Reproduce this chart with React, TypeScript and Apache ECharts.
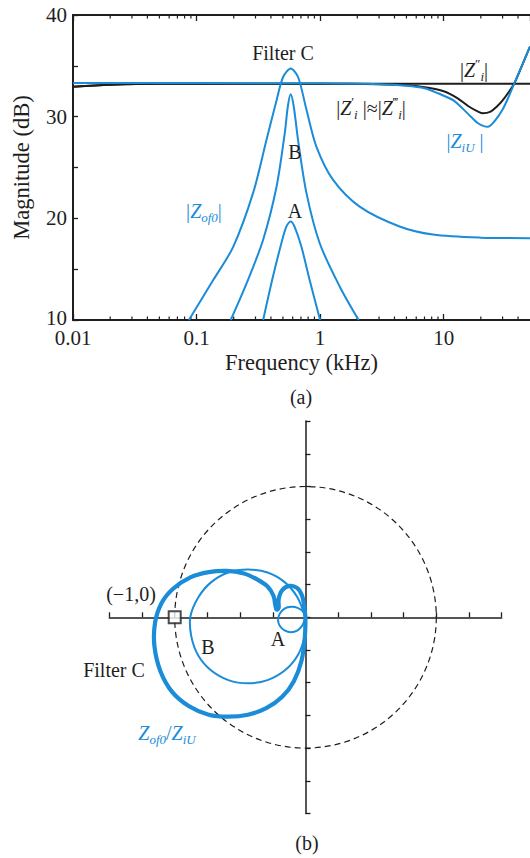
import React, { useEffect, useRef } from 'react';
import * as echarts from 'echarts';

const BLUE = '#1a8cd8';
const INK = '#1e1e1e';
const SERIF = 'Liberation Serif';

// ---------- Panel (a): magnitude vs frequency ----------
const freqMin = 0.01;
const freqMax = 50;
const magMin = 10;
const magMax = 40;
const magInterval = 5;
const minorFreqTicks = [
  0.02, 0.03, 0.04, 0.05, 0.06, 0.07, 0.08, 0.09,
  0.2, 0.3, 0.4, 0.5, 0.6, 0.7, 0.8, 0.9,
  2, 3, 4, 5, 6, 7, 8, 9,
  20, 30, 40,
];

// |Zof0| for filters A, B, C  [kHz, dB]
const zofA = [[0.346, 10], [0.416, 14.3], [0.486, 17.55], [0.534, 19.2], [0.578, 19.7], [0.62, 19.2], [0.706, 17.2], [0.824, 13.9], [1.0, 10]];
const zofB = [[0.189, 10], [0.254, 13.6], [0.346, 17.9], [0.444, 23.1], [0.518, 28.4], [0.548, 31.0], [0.578, 32.2], [0.612, 31.0], [0.663, 27.7], [0.775, 22.5], [0.993, 17.55], [1.44, 13.3], [2.05, 10]];
const zofC = [[0.0867, 10], [0.136, 13.9], [0.198, 17.2], [0.287, 22.5], [0.368, 27.7], [0.444, 31.6], [0.502, 33.9], [0.578, 34.75], [0.663, 33.9], [0.775, 30.7], [0.933, 27.05], [1.27, 23.8], [2.09, 21.15], [4.4, 19.2], [8.2, 18.4], [20, 18.1], [50, 18.05]];
// |ZiU|
const ziU = [[0.01, 33.3], [0.1, 33.3], [1, 33.28], [3, 33.2], [5, 33.05], [7, 32.8], [9, 32.3], [12, 31.6], [16, 30.2], [19, 29.35], [22.7, 29.0], [26, 29.6], [30, 30.7], [34, 32.1], [37.4, 33.3], [43, 35.0], [50, 36.9]];
// |Zi'| ≈ |Zi'''|
const ziPrime = [[0.01, 32.95], [0.02, 33.15], [0.05, 33.25], [1, 33.25], [3, 33.2], [5, 33.1], [7, 32.9], [10, 32.5], [13, 31.8], [16, 31.0], [19, 30.5], [20.8, 30.33], [24, 30.5], [27, 31.0], [30, 31.6], [34, 32.5], [37.4, 33.3], [43, 35.0], [50, 36.9]];
// |Zi''|
const ziDouble = [[0.01, 32.95], [0.02, 33.15], [0.05, 33.25], [1, 33.25], [10, 33.25], [50, 33.25]];

// ---------- Panel (b): Nyquist of Zof0/ZiU ----------
const nyqMin = -1.5;
const nyqMax = 1.5;
const nyqInterval = 0.25;
const criticalPoint = [[-1, 0]];
const nyqA = [[0, 0], [-0.02, 0.045], [-0.06, 0.072], [-0.11, 0.08], [-0.16, 0.066], [-0.197, 0.028], [-0.21, -0.018], [-0.197, -0.064], [-0.16, -0.1], [-0.11, -0.115], [-0.06, -0.1], [-0.025, -0.064], [-0.01, -0.03], [0, 0]];
const nyqB = [[0, 0], [-0.06, 0.15], [-0.157, 0.267], [-0.29, 0.343], [-0.44, 0.365], [-0.59, 0.343], [-0.723, 0.267], [-0.821, 0.15], [-0.88, 0.006], [-0.873, -0.146], [-0.821, -0.29], [-0.723, -0.405], [-0.59, -0.48], [-0.44, -0.505], [-0.29, -0.48], [-0.157, -0.405], [-0.059, -0.29], [-0.007, -0.146], [0, 0]];
const nyqC = [[0, 0], [-0.005, -0.15], [-0.03, -0.33], [-0.09, -0.49], [-0.18, -0.61], [-0.3, -0.695], [-0.44, -0.745], [-0.59, -0.76], [-0.74, -0.745], [-0.89, -0.68], [-1.02, -0.57], [-1.11, -0.41], [-1.155, -0.22], [-1.15, -0.04], [-1.1, 0.11], [-1.01, 0.22], [-0.88, 0.305], [-0.74, 0.345], [-0.6, 0.355], [-0.47, 0.335], [-0.37, 0.29], [-0.29, 0.235], [-0.245, 0.165], [-0.232, 0.1], [-0.222, 0.06], [-0.205, 0.075], [-0.205, 0.14], [-0.18, 0.205], [-0.125, 0.24], [-0.065, 0.225], [-0.028, 0.17], [-0.012, 0.1], [0, 0]];

const mathRich = {
  r: { fontFamily: SERIF, fontSize: 20, lineHeight: 26, verticalAlign: 'middle' },
  m: { fontFamily: SERIF, fontSize: 20, fontStyle: 'italic', lineHeight: 26, verticalAlign: 'middle' },
  sb: { fontFamily: SERIF, fontSize: 13, fontStyle: 'italic', lineHeight: 13, verticalAlign: 'bottom' },
  sp: { fontFamily: SERIF, fontSize: 13, lineHeight: 13, verticalAlign: 'top' },
};

function label(text: string, x: number, y: number, color: string, rich = false, size = 20) {
  const style: any = {
    text,
    x,
    y,
    fill: color,
    align: 'center',
    verticalAlign: 'middle',
    textAlign: 'center',
    textVerticalAlign: 'middle',
    fontFamily: SERIF,
    fontSize: size,
  };
  if (rich) style.rich = mathRich;
  return { type: 'text', silent: true, z: 10, style };
}

const lineSeries = (data: number[][], color: string, width: number, smooth: number) => ({
  type: 'line',
  data,
  xAxisIndex: 0,
  yAxisIndex: 0,
  showSymbol: false,
  symbol: 'none',
  smooth,
  lineStyle: { color, width },
  itemStyle: { color },
  silent: true,
});

// Nyquist loop drawn as a smooth (Catmull-Rom) path through the read points,
// positioned with the grid's own scales via api.coord.
const loopSeries = (data: number[][], color: string, width: number) => ({
  type: 'custom',
  xAxisIndex: 2,
  yAxisIndex: 1,
  silent: true,
  clip: false,
  z: 3,
  data,
  renderItem: (params: any, api: any) => {
    if (params.dataIndex !== 0) return null;
    const pts = data.map((p) => api.coord(p) as number[]);
    let d = `M${pts[0][0]},${pts[0][1]}`;
    for (let i = 0; i < pts.length - 1; i++) {
      const p0 = pts[i - 1] || pts[i];
      const p1 = pts[i];
      const p2 = pts[i + 1];
      const p3 = pts[i + 2] || p2;
      const c1x = p1[0] + (p2[0] - p0[0]) / 6;
      const c1y = p1[1] + (p2[1] - p0[1]) / 6;
      const c2x = p2[0] - (p3[0] - p1[0]) / 6;
      const c2y = p2[1] - (p3[1] - p1[1]) / 6;
      d += ` C${c1x},${c1y} ${c2x},${c2y} ${p2[0]},${p2[1]}`;
    }
    return {
      type: 'path',
      shape: { pathData: d },
      style: { fill: 'none', stroke: color, lineWidth: width, lineJoin: 'round', lineCap: 'round' },
    };
  },
});

export default function App() {
  const ref = useRef<HTMLDivElement>(null);
  useEffect(() => {
    if (!ref.current) return;
    const chart = echarts.init(ref.current, undefined, { renderer: 'svg' });
    const axisText = { fontFamily: SERIF, fontSize: 21, color: INK };
    const nameText = { fontFamily: SERIF, fontSize: 22.5, color: INK };
    const decadeFmt = (v: number) => {
      const l = Math.log10(v);
      if (Math.abs(l - Math.round(l)) > 1e-6) return '';
      return String(Number(v.toPrecision(4)));
    };
    const option: any = {
      animation: false,
      backgroundColor: '#fff',
      grid: [
        { left: 73, top: 15, width: 457, height: 305, containLabel: false },
        { left: 109.3, top: 421.1, width: 392.4, height: 392.4, containLabel: false },
      ],
      xAxis: [
        {
          type: 'log', gridIndex: 0, position: 'bottom', min: freqMin, max: freqMax, logBase: 10,
          axisLine: { onZero: false, lineStyle: { color: INK, width: 2 } },
          axisTick: { inside: true, length: 6, lineStyle: { color: INK, width: 1.3 } },
          axisLabel: { ...axisText, margin: 7, formatter: decadeFmt, showMaxLabel: false },
          splitLine: { show: false },
          name: 'Frequency (kHz)', nameLocation: 'middle', nameGap: 31,
          nameTextStyle: nameText,
        },
        {
          type: 'log', gridIndex: 0, position: 'top', min: freqMin, max: freqMax, logBase: 10,
          axisLine: { onZero: false, lineStyle: { color: INK, width: 2 } },
          axisTick: { inside: true, length: 6, lineStyle: { color: INK, width: 1.3 } },
          axisLabel: { show: false },
          splitLine: { show: false },
        },
        {
          type: 'value', gridIndex: 1, min: nyqMin, max: nyqMax, interval: nyqInterval,
          axisLine: { onZero: true, lineStyle: { color: INK, width: 1.5 } },
          axisTick: { inside: true, length: 5, lineStyle: { color: INK, width: 1.3 } },
          axisLabel: { show: false },
          splitLine: { show: false },
        },
      ],
      yAxis: [
        {
          type: 'value', gridIndex: 0, min: magMin, max: magMax, interval: magInterval,
          axisLine: { show: true, onZero: false, lineStyle: { color: INK, width: 2 } },
          axisTick: { show: true, inside: true, length: 5, lineStyle: { color: INK, width: 1.3 } },
          axisLabel: {
            ...axisText, margin: 6,
            formatter: (v: number) => (v === magMin ? '{lo|10}' : v % 10 === 0 ? String(v) : ''),
            rich: { lo: { fontFamily: SERIF, fontSize: 21, color: INK, padding: [0, 0, 5, 0] } },
          },
          splitLine: { show: false },
          name: 'Magnitude (dB)', nameLocation: 'middle', nameGap: 40, nameRotate: 90,
          nameTextStyle: nameText,
        },
        {
          type: 'value', gridIndex: 1, min: nyqMin, max: nyqMax, interval: nyqInterval,
          axisLine: { show: true, onZero: true, lineStyle: { color: INK, width: 1.5 } },
          axisTick: { show: true, inside: true, length: 5, lineStyle: { color: INK, width: 1.3 } },
          axisLabel: { show: false },
          splitLine: { show: false },
        },
      ],
      series: [
        {
          type: 'custom', xAxisIndex: 0, yAxisIndex: 0, silent: true, clip: false,
          data: minorFreqTicks.map((v) => [v, magMin]),
          renderItem: (params: any, api: any) => {
            const v = api.value(0);
            const b = api.coord([v, magMin]);
            const t = api.coord([v, magMax]);
            return {
              type: 'group',
              children: [
                { type: 'line', shape: { x1: b[0], y1: b[1], x2: b[0], y2: b[1] - 3.5 }, style: { stroke: INK, lineWidth: 1.2 } },
                { type: 'line', shape: { x1: t[0], y1: t[1], x2: t[0], y2: t[1] + 3.5 }, style: { stroke: INK, lineWidth: 1.2 } },
              ],
            };
          },
        },
        lineSeries(ziDouble, INK, 2, 0.3),
        lineSeries(ziPrime, INK, 2, 0.3),
        lineSeries(ziU, BLUE, 2, 0.3),
        lineSeries(zofA, BLUE, 2, 0.3),
        lineSeries(zofB, BLUE, 2, 0.3),
        lineSeries(zofC, BLUE, 2, 0.3),
        loopSeries(nyqA, BLUE, 2),
        loopSeries(nyqB, BLUE, 2),
        loopSeries(nyqC, BLUE, 4.2),
        {
          type: 'scatter', xAxisIndex: 2, yAxisIndex: 1, data: criticalPoint, symbol: 'rect', symbolSize: 12,
          itemStyle: { color: '#fff', borderColor: INK, borderWidth: 2 }, z: 6, silent: true,
        },
      ],
    };
    chart.setOption(option);

    const c = chart.convertToPixel({ gridIndex: 1 } as any, [0, 0]) as number[];
    const e = chart.convertToPixel({ gridIndex: 1 } as any, [1, 0]) as number[];
    const r = e[0] - c[0];
    chart.setOption({
      graphic: [
        {
          type: 'circle', silent: true, z: 1,
          shape: { cx: c[0], cy: c[1], r },
          style: { fill: 'none', stroke: INK, lineWidth: 1.2, lineDash: [6, 4] },
        },
        label('Filter C', 283, 53, INK),
        label('B', 295, 152, INK),
        label('A', 295, 211, INK),
        label('{r||}{m|Z}{sb|of0}{r||}', 204, 211, BLUE, true),
        label('{r||}{m|Z}{sp|″}{sb|i}{r||}', 474, 70, INK, true),
        label('{r||}{m|Z}{sp|′}{sb|i}{r| |≈|}{m|Z}{sp|‴}{sb|i}{r||}', 371, 108, INK, true),
        label('{r||}{m|Z}{sb|iU}{r| |}', 465, 141, BLUE, true),
        label('(a)', 301, 397, INK),
        label('(−1,0)', 131, 594, INK),
        label('B', 208, 647, INK),
        label('A', 278, 639, INK),
        label('Filter C', 114, 670, INK),
        label('{m|Z}{sb|of0}{r|/}{m|Z}{sb|iU}', 167, 733, BLUE, true),
        label('(b)', 307, 843, INK),
      ],
    });
    return () => chart.dispose();
  }, []);
  return <div ref={ref} style={{ position: 'absolute', left: 0, top: 0, width: 530, height: 858 }} />;
}
